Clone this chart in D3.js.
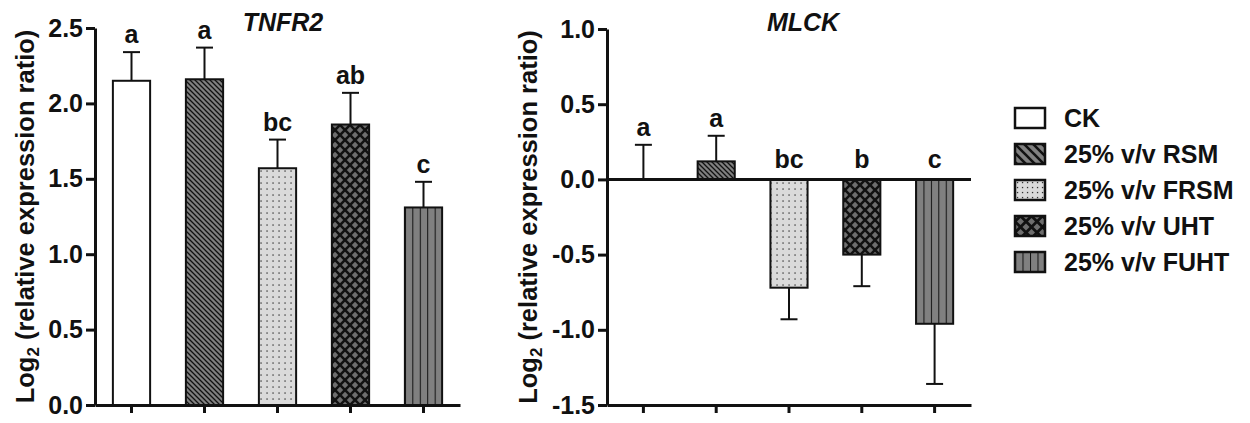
<!DOCTYPE html>
<html>
<head>
<meta charset="utf-8">
<script src="https://cdn.jsdelivr.net/npm/d3@7"></script>
<style>
  body { margin: 0; background: #fff; }
  svg { font-family: "Liberation Sans", Arial, sans-serif; font-weight: bold; }
</style>
</head>
<body>
<div id="chart"></div>
<script>
// groups and values
const groups = ["CK", "25% v/v RSM", "25% v/v FRSM", "25% v/v UHT", "25% v/v FUHT"];

const tnfr2Mean = [2.15, 2.16, 1.57, 1.86, 1.31];
const tnfr2Err = [0.19, 0.21, 0.19, 0.21, 0.17];
const tnfr2Letters = ["a", "a", "bc", "ab", "c"];
const tnfr2Ticks = [0, 0.5, 1.0, 1.5, 2.0, 2.5];

const mlckMean = [0, 0.12, -0.72, -0.50, -0.96];
const mlckErr = [0.23, 0.17, 0.21, 0.21, 0.40];
const mlckLetters = ["a", "a", "bc", "b", "c"];
const mlckTicks = [-1.5, -1.0, -0.5, 0, 0.5, 1.0];

const W = 1250, H = 423;
const svg = d3.select('#chart').append('svg')
  .attr('width', W)
  .attr('height', H);

// fill patterns
const defs = svg.append('defs');

function diagPattern(id, size, sw) {
  const p = defs.append('pattern')
    .attr('id', id)
    .attr('patternUnits', 'userSpaceOnUse')
    .attr('width', size).attr('height', size);
  p.append('rect').attr('width', size).attr('height', size).attr('fill', '#808080');
  p.append('path')
    .attr('d', `M${-size},0 L${size * 2},${size * 3} M0,${-size} L${size * 3},${size * 2} M${-size},${-size} L${size * 2},${size * 2}`)
    .attr('stroke', '#111').attr('stroke-width', sw);
}
diagPattern('diag-bar', 5, 1.3);
diagPattern('diag-leg', 9, 2.6);

function dotPattern(id, size) {
  const p = defs.append('pattern')
    .attr('id', id)
    .attr('patternUnits', 'userSpaceOnUse')
    .attr('width', size).attr('height', size);
  p.append('rect').attr('width', size).attr('height', size).attr('fill', '#dadada');
  p.append('rect').attr('x', size / 2 - 0.6).attr('y', size / 2 - 0.6)
    .attr('width', 1.3).attr('height', 1.3).attr('fill', '#333');
}
dotPattern('dots-bar', 6);
dotPattern('dots-leg', 5);

function diamondPattern(id, size) {
  const p = defs.append('pattern')
    .attr('id', id)
    .attr('patternUnits', 'userSpaceOnUse')
    .attr('width', size).attr('height', size);
  p.append('rect').attr('width', size).attr('height', size).attr('fill', '#111');
  const r = size * 0.32, c = size / 2;
  [[c, c], [0, 0], [size, 0], [0, size], [size, size]].forEach(function(pt) {
    p.append('path')
      .attr('d', `M${pt[0]},${pt[1] - r} L${pt[0] + r},${pt[1]} L${pt[0]},${pt[1] + r} L${pt[0] - r},${pt[1]} Z`)
      .attr('fill', '#6e6e6e');
  });
}
diamondPattern('diam-bar', 10);
diamondPattern('diam-leg', 11);

function stripePattern(id, frac) {
  const p = defs.append('pattern')
    .attr('id', id)
    .attr('patternUnits', 'objectBoundingBox')
    .attr('width', frac).attr('height', 1);
  p.append('rect').attr('width', 100).attr('height', 1000).attr('fill', '#808080');
  p.append('line').attr('x1', 0).attr('x2', 0).attr('y1', 0).attr('y2', 1000)
    .attr('stroke', '#111').attr('stroke-width', 2);
}
stripePattern('vline-bar', 0.2);
stripePattern('vline-leg', 0.25);

const barFill = ['#fff', 'url(#diag-bar)', 'url(#dots-bar)', 'url(#diam-bar)', 'url(#vline-bar)'];
const legFill = ['#fff', 'url(#diag-leg)', 'url(#dots-leg)', 'url(#diam-leg)', 'url(#vline-leg)'];

const fmt = d => d3.format('.1f')(d).replace('\u2212', '-');

function drawPanel(opt) {
  const x = d3.scaleBand()
    .domain(groups)
    .range([opt.left, opt.right])
    .paddingInner(0.49)
    .paddingOuter(0.245);
  const y = d3.scaleLinear()
    .domain(opt.domain)
    .range([opt.bottom, opt.top]);

  const data = groups.map((g, i) => ({ g: g, v: opt.mean[i], e: opt.err[i], l: opt.letters[i], i: i }));

  const g = svg.append('g');

  // bars
  g.selectAll('rect.bar')
    .data(data)
    .enter().append('rect')
    .attr('class', 'bar')
    .attr('x', d => x(d.g))
    .attr('width', x.bandwidth())
    .attr('y', d => y(Math.max(0, d.v)))
    .attr('height', d => Math.abs(y(d.v) - y(0)))
    .attr('fill', d => barFill[d.i])
    .attr('stroke', '#111')
    .attr('stroke-width', 2);

  // error bars (one side only)
  const errEnd = d => d.v >= 0 ? d.v + d.e : d.v - d.e;
  const cx = d => x(d.g) + x.bandwidth() / 2;
  g.selectAll('line.err')
    .data(data)
    .enter().append('line')
    .attr('x1', cx).attr('x2', cx)
    .attr('y1', d => y(d.v))
    .attr('y2', d => y(errEnd(d)))
    .attr('stroke', '#111').attr('stroke-width', 2);
  g.selectAll('line.cap')
    .data(data)
    .enter().append('line')
    .attr('x1', d => cx(d) - 8.5).attr('x2', d => cx(d) + 8.5)
    .attr('y1', d => y(errEnd(d)))
    .attr('y2', d => y(errEnd(d)))
    .attr('stroke', '#111').attr('stroke-width', 2);

  // significance letters
  g.selectAll('text.sig')
    .data(data)
    .enter().append('text')
    .attr('x', cx)
    .attr('y', d => d.v >= 0 ? y(errEnd(d)) - 9 : y(0) - 11)
    .attr('text-anchor', 'middle')
    .style('font-size', '25px')
    .attr('fill', '#111')
    .text(d => d.l);

  // y axis
  const yAxisG = g.append('g')
    .attr('transform', `translate(${opt.left},0)`)
    .call(d3.axisLeft(y).tickValues(opt.ticks).tickFormat(fmt).tickSize(9).tickPadding(3).tickSizeOuter(0));
  yAxisG.select('.domain').attr('stroke-width', 3).attr('stroke', '#111');
  yAxisG.selectAll('.tick line').attr('stroke-width', 3).attr('stroke', '#111');
  yAxisG.selectAll('.tick text')
    .style('font-size', '25px')
    .style('font-family', '"Liberation Sans", Arial, sans-serif')
    .style('font-weight', 'bold')
    .attr('fill', '#111');

  // x axis (at the bottom of the panel)
  const xAxisG = g.append('g')
    .attr('transform', `translate(0,${opt.bottom})`)
    .call(d3.axisBottom(x).tickFormat('').tickSize(8).tickSizeOuter(0));
  xAxisG.select('.domain').attr('stroke-width', 3).attr('stroke', '#111');
  xAxisG.selectAll('.tick line').attr('stroke-width', 3).attr('stroke', '#111');

  // zero line when the domain crosses zero
  if (opt.domain[0] < 0) {
    g.append('line')
      .attr('x1', opt.left).attr('x2', opt.right)
      .attr('y1', y(0)).attr('y2', y(0))
      .attr('stroke', '#111').attr('stroke-width', 3);
  }

  // title
  g.append('text')
    .attr('x', opt.titleX)
    .attr('y', 31)
    .attr('text-anchor', 'middle')
    .style('font-size', '25px')
    .style('font-style', 'italic')
    .attr('fill', '#111')
    .text(opt.title);

  // y label with subscript
  const yl = g.append('text')
    .attr('transform', `translate(${opt.labelX},${(opt.top + opt.bottom) / 2}) rotate(-90)`)
    .attr('text-anchor', 'middle')
    .style('font-size', '25.5px')
    .attr('fill', '#111');
  yl.append('tspan').text('Log');
  yl.append('tspan').attr('dy', 5).style('font-size', '17px').text('2');
  yl.append('tspan').attr('dy', -5).text(' (relative expression ratio)');
}

drawPanel({
  left: 95, right: 460, top: 28, bottom: 405,
  domain: [0, 2.5], ticks: tnfr2Ticks,
  mean: tnfr2Mean, err: tnfr2Err, letters: tnfr2Letters,
  title: 'TNFR2', titleX: 283, labelX: 34
});

drawPanel({
  left: 607, right: 971, top: 29, bottom: 405,
  domain: [-1.5, 1.0], ticks: mlckTicks,
  mean: mlckMean, err: mlckErr, letters: mlckLetters,
  title: 'MLCK', titleX: 803, labelX: 537
});

// legend
const legend = svg.append('g').attr('transform', 'translate(1015,108)');
const item = legend.selectAll('g')
  .data(groups)
  .enter().append('g')
  .attr('transform', (d, i) => `translate(0,${i * 36})`);
item.append('rect')
  .attr('width', 30).attr('height', 20)
  .attr('fill', (d, i) => legFill[i])
  .attr('stroke', '#111').attr('stroke-width', 2.5);
item.append('text')
  .attr('x', 49).attr('y', 19)
  .style('font-size', '25px')
  .attr('fill', '#111')
  .text(d => d);
</script>
</body>
</html>
